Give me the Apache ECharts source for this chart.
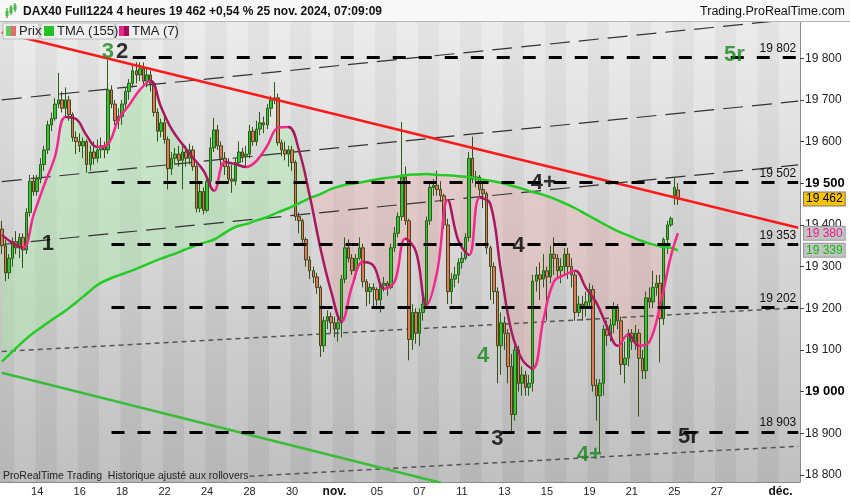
<!DOCTYPE html>
<html>
<head>
<meta charset="utf-8">
<script src="https://cdn.jsdelivr.net/npm/echarts@6/dist/echarts.min.js"></script>
<style>
html, body { margin: 0; padding: 0; background: #fff; }
#chart { width: 850px; height: 500px; }
</style>
</head>
<body>
<div id="chart"></div>
<script>
// sessions on the x axis, 4 hour bars (6 per session, the first one is partial)
const sessions = ['10','11','14','15','16','17','18','21','22','23','24','25','28','29','30','31','nov.',
  '04','05','06','07','08','11','12','13','14','15','18','19','20','21','22','25','26','27','28','29','déc.'];
const firstSessionBars = 4;
const barsPerSession = 6;
const labelSessions = [2, 4, 6, 8, 10, 12, 14, 16, 18, 20, 22, 24, 26, 28, 30, 32, 34, 37];
const tickSessions = [2, 4, 6, 8, 10, 12, 14, 16, 18, 20, 22, 24, 26, 28, 30, 32, 34, 36, 37];

// [open, close, low, high]
const candles = [
  [19390,19350,19330,19410],[19350,19285,19265,19365],[19285,19320,19270,19330],[19320,19360,19300,19370],
  [19360,19345,19330,19385],[19345,19370,19320,19380],[19370,19340,19297,19380],[19340,19430,19330,19440],[19430,19505,19420,19520],[19505,19480,19470,19520],
  [19480,19510,19470,19520],[19510,19545,19500,19560],[19545,19580,19530,19590],[19580,19640,19570,19650],[19640,19655,19625,19670],[19655,19690,19650,19705],
  [19690,19700,19680,19765],[19700,19680,19670,19720],[19680,19700,19660,19730],[19700,19665,19650,19710],[19665,19610,19600,19670],[19610,19600,19570,19625],
  [19600,19590,19575,19620],[19590,19600,19560,19610],[19600,19545,19525,19605],[19545,19575,19530,19590],[19575,19560,19545,19600],[19560,19580,19550,19605],
  [19580,19590,19560,19610],[19590,19580,19560,19600],[19580,19724,19570,19796],[19724,19690,19680,19735],[19690,19650,19640,19700],[19650,19660,19630,19680],
  [19660,19690,19640,19700],[19690,19720,19680,19730],[19720,19740,19700,19750],[19740,19770,19730,19785],[19770,19760,19740,19790],[19760,19775,19745,19790],
  [19775,19745,19735,19790],[19745,19760,19730,19775],[19760,19740,19720,19770],[19740,19670,19660,19745],[19670,19625,19600,19680],[19625,19645,19610,19655],
  [19645,19605,19595,19660],[19605,19535,19485,19612],[19535,19560,19520,19575],[19560,19570,19545,19585],[19570,19555,19540,19590],[19555,19575,19485,19590],
  [19575,19560,19540,19590],[19560,19580,19545,19595],[19580,19540,19530,19590],[19540,19440,19430,19545],[19440,19480,19430,19500],[19480,19435,19425,19490],
  [19435,19505,19430,19515],[19505,19585,19490,19610],[19585,19628,19575,19657],[19628,19590,19580,19640],[19590,19560,19540,19600],[19560,19540,19520,19575],
  [19540,19510,19500,19560],[19510,19505,19477,19545],[19505,19550,19495,19560],[19550,19575,19540,19600],[19575,19565,19550,19585],[19565,19570,19540,19590],
  [19570,19625,19560,19640],[19625,19600,19590,19635],[19600,19630,19590,19650],[19630,19645,19615,19671],[19645,19640,19620,19660],[19640,19680,19630,19690],
  [19680,19700,19660,19710],[19700,19705,19690,19743],[19705,19597,19590,19715],[19597,19580,19565,19605],[19580,19570,19555,19600],[19570,19580,19540,19590],
  [19580,19550,19530,19590],[19550,19420,19410,19555],[19420,19410,19380,19430],[19410,19365,19355,19415],[19365,19316,19300,19370],[19316,19290,19270,19325],
  [19290,19275,19260,19300],[19275,19250,19235,19285],[19250,19110,19083,19255],[19110,19170,19095,19180],[19170,19180,19150,19195],[19180,19165,19140,19190],
  [19165,19150,19130,19180],[19150,19165,19120,19175],[19165,19270,19130,19280],[19270,19345,19260,19370],[19345,19320,19310,19365],[19320,19290,19280,19330],
  [19290,19320,19270,19330],[19320,19345,19315,19370],[19345,19264,19250,19355],[19264,19240,19205,19270],[19240,19250,19210,19260],[19250,19245,19200,19260],
  [19245,19220,19200,19250],[19220,19255,19190,19260],[19255,19260,19240,19275],[19260,19250,19230,19265],[19250,19345,19245,19355],[19345,19380,19335,19395],
  [19380,19420,19370,19430],[19420,19515,19410,19647],[19515,19410,19400,19540],[19410,19125,19075,19415],[19125,19190,19100,19210],[19190,19140,19115,19200],
  [19140,19190,19110,19200],[19190,19210,19170,19230],[19210,19410,19200,19420],[19410,19490,19400,19500],[19490,19495,19470,19510],[19495,19485,19470,19530],
  [19485,19470,19455,19505],[19470,19400,19390,19475],[19400,19240,19210,19415],[19240,19270,19210,19285],[19270,19280,19250,19300],[19280,19310,19260,19320],
  [19310,19320,19295,19335],[19320,19370,19315,19380],[19370,19560,19360,19575],[19560,19510,19500,19612],[19510,19515,19490,19530],[19515,19485,19470,19520],
  [19485,19475,19440,19500],[19475,19345,19330,19480],[19345,19300,19220,19350],[19300,19240,19210,19310],[19240,19110,19020,19250],[19110,19165,19040,19190],
  [19165,19140,19100,19180],[19140,19060,19020,19150],[19060,18945,18905,19090],[18945,19100,18930,19110],[19100,19020,19000,19110],[19020,19040,18990,19060],
  [19040,19010,18990,19050],[19010,19020,18990,19040],[19020,19265,19000,19280],[19265,19280,19240,19300],[19280,19270,19220,19310],[19270,19290,19250,19330],
  [19290,19275,19170,19300],[19275,19330,19260,19350],[19330,19320,19280,19370],[19320,19290,19270,19330],[19290,19300,19260,19320],[19300,19330,19280,19345],
  [19330,19300,19270,19345],[19300,19280,19250,19320],[19280,19190,19170,19290],[19190,19210,19180,19230],[19210,19200,19170,19230],[19200,19215,19180,19240],
  [19215,19245,19200,19260],[19245,19015,19000,19255],[19015,18990,18930,19030],[18990,19020,18853,19030],[19020,19150,18990,19160],[19150,19135,19110,19170],
  [19135,19160,19120,19175],[19160,19200,19140,19215],[19200,19170,19150,19210],[19170,19065,19040,19180],[19065,19080,19020,19120],[19080,19140,19060,19150],
  [19140,19120,19100,19150],[19120,19140,19100,19160],[19140,19080,18940,19150],[19080,19050,19030,19100],[19050,19225,19030,19240],[19225,19215,19200,19250],
  [19215,19250,19200,19290],[19250,19260,19230,19280],[19260,19175,19070,19280],[19175,19365,19160,19370],[19365,19400,19330,19410],[19400,19415,19395,19420],
  [19470,19490,19448,19513],[19484,19462,19448,19500]
];

// moving averages read every third bar
const tmaIdx = [0,3,6,9,12,15,18,21,24,27,30,33,36,39,42,45,48,51,54,57,60,63,66,69,72,75,78,81,84,87,90,93,96,99,
  102,105,108,111,114,117,120,123,126,129,132,135,138,141,144,147,150,153,156,159,162,165,168,171,174,177,180,183,186,189,191];
const tma7 = [19376,19357,19345,19424,19496,19563,19659,19654,19614,19587,19594,19654,19688,19724,19746,19683,19630,19594,19561,19530,
  19482,19551,19546,19539,19554,19590,19633,19635,19578,19470,19345,19242,19168,19254,19311,19302,19247,19264,19367,19336,
  19208,19288,19460,19362,19328,19465,19451,19290,19144,19077,19055,19172,19264,19280,19290,19249,19213,19156,19110,19137,
  19110,19120,19208,19324,19380];
const tma155 = [19072,19096,19120,19141,19159,19177,19194,19214,19235,19256,19269,19279,19288,19298,19309,19319,19328,19338,19348,19357,
  19365,19381,19395,19402,19411,19419,19430,19440,19452,19464,19474,19486,19494,19499,19503,19508,19512,19515,19519,19521,
  19522,19520,19519,19517,19515,19510,19506,19501,19494,19487,19479,19472,19463,19452,19440,19426,19412,19398,19385,19375,
  19364,19355,19349,19345,19339];

// drawn lines [barIndex, price]
const resistance = [[0, 19862], [225, 19393]];
const channels = [[[0, 19700], [225, 19895]], [[0, 19504], [225, 19697]], [[0, 19353], [225, 19544]]];
const dotted = [[[0, 19096], [225, 19201]], [[70, 18797], [225, 18869]]];
const support = [[0, 19045], [124, 18781]];
const levels = [19802, 19502, 19353, 19202, 18903];
const levelStart = [37, 31, 31, 31, 31];

const GREEN = '#16871a';
const notes = [
  ['3', 30, 19815, GREEN], ['2', 34, 19815, '#000'], ['1', 13, 19355, '#000'],
  ['4+', 153, 19501, '#000'], ['4', 146, 19350, '#000'], ['4', 136, 19086, GREEN],
  ['3', 140, 18887, '#000'], ['4+', 166, 18849, GREEN], ['5r', 194, 18892, '#000'], ['5r', 207, 19808, GREEN]
];

const lastPrice = 19462;
const fmt = v => String(v).replace(/\B(?=(\d{3})+(?!\d))/g, ' ');

// categories
const categories = [];
const sessionStart = [];
sessions.forEach((s, k) => {
  sessionStart.push(categories.length);
  const n = k === 0 ? firstSessionBars : barsPerSession;
  for (let j = 0; j < n; j++) categories.push(s + '|' + categories.length);
});
const startSet = new Set(sessionStart);
const labelSet = new Set(labelSessions.map(k => sessionStart[k]));
const tickSet = new Set(tickSessions.map(k => sessionStart[k]));

// fill between the two averages
const fillBase = tma7.map((p, k) => [tmaIdx[k], Math.min(p, tma155[k])]);
const fillUp = tma7.map((p, k) => [tmaIdx[k], Math.max(p - tma155[k], 0)]);
const fillDn = tma7.map((p, k) => [tmaIdx[k], Math.max(tma155[k] - p, 0)]);

// falling parts of the short average are darker
const pieces = [];
for (let k = 0; k < tma7.length - 1; k++) {
  if (tma7[k + 1] < tma7[k]) pieces.push({ gte: tmaIdx[k], lt: tmaIdx[k + 1], color: '#a8185e' });
}

const FONT = '"Liberation Sans", Arial, sans-serif';

const chart = echarts.init(document.getElementById('chart'));

const lineSeries = (data, color, width, type, z) => ({
  type: 'line', data: data, symbol: 'none', silent: true, z: z || 2,
  lineStyle: { color: color, width: width, type: type || 'solid' }
});

const series = [
  { name: 'base', type: 'line', stack: 'fill', data: fillBase, symbol: 'none', smooth: 0.4, silent: true, z: 1,
    lineStyle: { width: 0 } },
  { name: 'up', type: 'line', stack: 'fill', data: fillUp, symbol: 'none', smooth: 0.4, silent: true, z: 1,
    lineStyle: { width: 0 }, areaStyle: { color: 'rgba(165,238,165,0.55)' } },
  { name: 'dn', type: 'line', stack: 'fill', data: fillDn, symbol: 'none', smooth: 0.4, silent: true, z: 1,
    lineStyle: { width: 0 }, areaStyle: { color: 'rgba(245,160,160,0.42)' } },
  lineSeries(channels[0], '#333', 1.2, [20, 9]),
  lineSeries(channels[1], '#333', 1.2, [20, 9]),
  lineSeries(channels[2], '#333', 1.2, [20, 9]),
  lineSeries(dotted[0], '#555', 1.5, [5, 4]),
  lineSeries(dotted[1], '#555', 1.5, [5, 4]),
  lineSeries(support, '#3cbc3c', 2.5),
  {
    name: 'Prix', type: 'candlestick', data: candles, barWidth: 3, z: 3,
    itemStyle: { color: '#35c435', color0: '#e8735e', borderColor: '#2a5e17', borderColor0: '#3b4a17', borderWidth: 1 },
    markLine: {
      silent: true, symbol: 'none', animation: false,
      data: levels.map((v, k) => [
        { coord: [levelStart[k], v],
          lineStyle: { color: '#000', width: 3, type: [13, 13] },
          label: { show: true, position: 'insideEndTop', formatter: fmt(v), color: '#111', fontSize: 12, fontFamily: FONT, distance: [2, 3] } },
        { coord: [225, v] }
      ]).concat([
        { yAxis: lastPrice, lineStyle: { color: 'transparent' },
          label: { show: true, position: 'end', formatter: fmt(lastPrice), color: '#000', backgroundColor: '#f7c300',
            borderColor: '#777', borderWidth: 1, padding: [1, 2, 0, 2], fontSize: 12, fontFamily: FONT, distance: 4 } },
        { yAxis: tma7[tma7.length - 1], lineStyle: { color: 'transparent' },
          label: { show: true, position: 'end', formatter: fmt(tma7[tma7.length - 1]), color: '#e8208a', backgroundColor: '#c3c3c3',
            borderColor: '#999', borderWidth: 1, padding: [1, 2, 0, 2], fontSize: 12, fontFamily: FONT, distance: 4 } },
        { yAxis: tma155[tma155.length - 1], lineStyle: { color: 'transparent' },
          label: { show: true, position: 'end', formatter: fmt(tma155[tma155.length - 1]), color: '#14b814', backgroundColor: '#c3c3c3',
            borderColor: '#999', borderWidth: 1, padding: [1, 2, 0, 2], fontSize: 12, fontFamily: FONT, distance: 4 } }
      ])
    }
  },
  lineSeries(resistance, '#ff1a1a', 2.5, 'solid', 4),
  { name: 'TMA (155)', type: 'line', data: tmaIdx.map((x, k) => [x, tma155[k]]), symbol: 'none', smooth: 0.4, z: 4,
    lineStyle: { color: '#22cc22', width: 2.5 } },
  { name: 'TMA (7)', type: 'line', data: tmaIdx.map((x, k) => [x, tma7[k]]), symbol: 'none', smooth: 0.4, z: 4,
    lineStyle: { width: 2.5 } },
  { name: 'notes', type: 'scatter', symbolSize: 1, z: 5, silent: true, itemStyle: { color: 'transparent' },
    data: notes.map(n => ({ value: [n[1], n[2]],
      label: { show: true, position: 'inside', formatter: n[0], color: n[3], fontSize: 22, fontWeight: 'bold', fontFamily: FONT } })) }
];
const pinkIndex = series.length - 2;

const tab = (x, w, label, c1, c2) => [
  { type: 'rect', shape: { x: x, y: 23, width: w, height: 16 }, style: { fill: '#efefef', stroke: '#bdbdbd', lineWidth: 1 }, z: 100 },
  { type: 'rect', shape: { x: x + 3, y: 26, width: 5, height: 10 }, style: { fill: c1 }, z: 101 },
  { type: 'rect', shape: { x: x + 8, y: 26, width: 5, height: 10 }, style: { fill: c2 }, z: 101 },
  { type: 'text', x: x + 16, y: 31.5, style: { text: label, fill: '#222', font: '13px ' + FONT, verticalAlign: 'middle' }, z: 101 }
];

chart.setOption({
  animation: false,
  grid: {
    left: 0, right: 50, top: 22, bottom: 18, show: true, borderWidth: 0,
    backgroundColor: new echarts.graphic.LinearGradient(0, 0, 0, 1, [
      { offset: 0, color: '#ebebeb' }, { offset: 1, color: '#bcbcbc' }
    ])
  },
  visualMap: {
    show: false, type: 'piecewise', seriesIndex: pinkIndex, dimension: 0,
    pieces: pieces, outOfRange: { color: '#f5288c' }
  },
  xAxis: {
    type: 'category', data: categories, boundaryGap: true,
    axisLine: { lineStyle: { color: '#8a8a8a' } },
    axisTick: { interval: i => tickSet.has(i), length: 4, lineStyle: { color: '#555' } },
    axisLabel: {
      interval: i => labelSet.has(i), color: '#222', fontSize: 11, fontFamily: FONT, margin: 4,
      formatter: v => { const s = v.split('|')[0]; return s.indexOf('.') > 0 ? '{m|' + s + '}' : s; },
      rich: { m: { fontWeight: 'bold', fontSize: 12, color: '#111', fontFamily: FONT } }
    },
    splitLine: { show: false },
    splitArea: { show: true, interval: i => startSet.has(i),
      areaStyle: { color: ['rgba(0,0,0,0.03)', 'rgba(255,255,255,0.07)'] } }
  },
  yAxis: {
    type: 'value', position: 'right', min: 18783, max: 19887, splitNumber: 11, scale: true,
    axisLine: { show: true, lineStyle: { color: '#8a8a8a' } },
    axisTick: { show: true, length: 4, lineStyle: { color: '#444' } },
    splitLine: { show: false },
    axisLabel: {
      color: '#222', fontSize: 12, fontFamily: FONT, margin: 5, showMinLabel: false, showMaxLabel: false,
      formatter: v => v % 500 === 0 ? '{b|' + fmt(v) + '}' : fmt(v),
      rich: { b: { fontWeight: 'bold', fontSize: 13, color: '#000', fontFamily: FONT } }
    }
  },
  series: series,
  graphic: [
    { type: 'rect', shape: { x: 0, y: 0, width: 850, height: 21 }, style: { fill: '#f8f8f8' }, z: 99 },
    { type: 'line', shape: { x1: 0, y1: 21.5, x2: 850, y2: 21.5 }, style: { stroke: '#b5b5b5', lineWidth: 1 }, z: 99 },
    { type: 'line', shape: { x1: 7, y1: 8, x2: 7, y2: 18 }, style: { stroke: '#2a7a1a', lineWidth: 1 }, z: 100 },
    { type: 'rect', shape: { x: 5.5, y: 11, width: 3, height: 5 }, style: { fill: '#44bb44' }, z: 100 },
    { type: 'line', shape: { x1: 11, y1: 5, x2: 11, y2: 15 }, style: { stroke: '#2a7a1a', lineWidth: 1 }, z: 100 },
    { type: 'rect', shape: { x: 9.5, y: 7, width: 3, height: 6 }, style: { fill: '#44bb44' }, z: 100 },
    { type: 'line', shape: { x1: 15, y1: 3, x2: 15, y2: 12 }, style: { stroke: '#2a7a1a', lineWidth: 1 }, z: 100 },
    { type: 'rect', shape: { x: 13.5, y: 5, width: 3, height: 5 }, style: { fill: '#44bb44' }, z: 100 },
    { type: 'text', x: 23, y: 12, z: 100,
      style: { text: 'DAX40 Full1224 4 heures 19 462 +0,54 % 25 nov. 2024, 07:09:09', fill: '#111',
        font: 'bold 12px ' + FONT, verticalAlign: 'middle' } },
    { type: 'text', x: 845, y: 12, z: 100,
      style: { text: 'Trading.ProRealTime.com', fill: '#111', font: '12.5px ' + FONT, align: 'right', verticalAlign: 'middle' } },
    ...tab(3, 36, 'Prix', '#5ccc5c', '#e56b6b'),
    ...tab(41, 73, 'TMA (155)', '#22c322', '#22c322'),
    ...tab(116, 61, 'TMA (7)', '#e8258a', '#a0105a'),
    { type: 'text', x: 3, y: 476, z: 100,
      style: { text: 'ProRealTime Trading  Historique ajusté aux rollovers', fill: '#222', font: '10.5px ' + FONT, verticalAlign: 'middle' } }
  ]
});
</script>
</body>
</html>
